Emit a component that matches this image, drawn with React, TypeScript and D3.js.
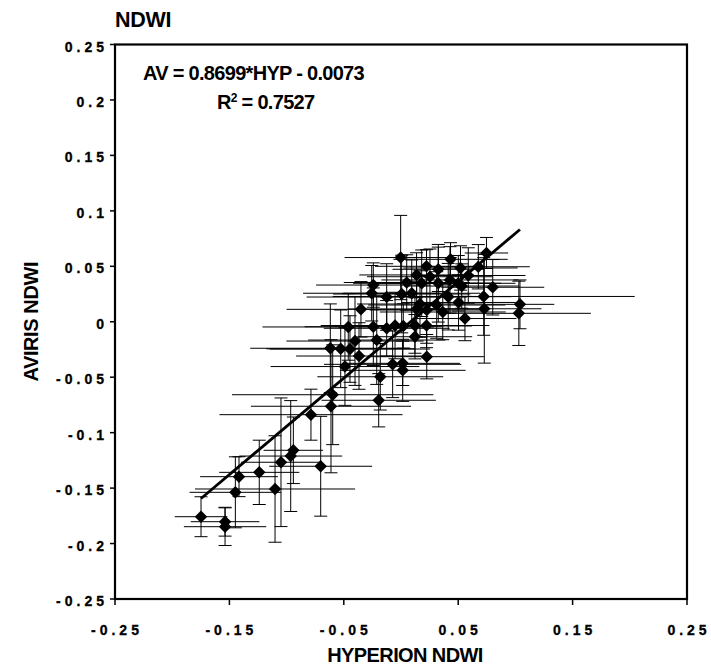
import React from "react";
import * as d3 from "d3";

const hypX = [-0.1748,-0.1538,-0.1538,-0.1448,-0.1416,-0.1239,-0.1101,-0.1049,-0.0964,-0.0941,-0.0702,-0.0787,-0.0612,-0.0597,-0.0195,-0.0181,-0.0073,0.0015,0.0015,-0.049,-0.0618,-0.0527,-0.0446,-0.0402,-0.0367,-0.0212,-0.0461,-0.0242,-0.0125,-0.0052,0.002,0.0122,0.0223,0.0122,0.0225,-0.035,-0.0242,-0.0256,-0.0125,0.0006,0.005,0.0094,0.0166,0.0137,0.0225,-0.0003,0.0136,0.0223,0.0253,0.0326,0.0181,0.0326,0.0433,0.052,0.0676,0.0747,0.0588,0.0428,0.0501,0.0802,0.0723,0.0413,0.0503,0.0312,0.0365,0.0728,0.0559,0.104,0.103,0.0531];
const avY = [-0.1758,-0.1803,-0.1848,-0.1538,-0.1397,-0.1358,-0.1508,-0.1267,-0.1211,-0.1159,-0.1303,-0.0838,-0.0762,-0.0658,-0.0708,-0.0496,-0.0384,-0.0375,-0.0438,-0.0404,-0.0239,-0.0244,-0.0246,-0.0174,-0.0309,-0.0165,-0.0047,-0.0045,-0.0059,-0.0034,-0.0038,-0.0034,-0.0034,-0.0135,-0.0315,0.0112,0.0331,0.0257,0.0223,0.025,0.0354,0.0257,0.016,0.0115,0.0106,0.0579,0.0422,0.05,0.0406,0.0473,0.0347,0.0347,0.0563,0.0485,0.0496,0.062,0.0417,0.0377,0.0347,0.0311,0.0228,0.0226,0.0174,0.0151,0.0088,0.0117,0.0029,0.0157,0.0076,0.0322];
const hypErr = [0.023,0.03,0.036,0.04,0.034,0.035,0.07,0.035,0.045,0.026,0.045,0.08,0.07,0.088,0.05,0.055,0.06,0.05,0.055,0.065,0.07,0.065,0.07,0.06,0.055,0.06,0.075,0.06,0.055,0.065,0.06,0.05,0.055,0.05,0.05,0.065,0.05,0.06,0.07,0.06,0.055,0.06,0.055,0.06,0.05,0.049,0.05,0.045,0.055,0.04,0.06,0.055,0.05,0.05,0.045,0.019,0.05,0.06,0.05,0.045,0.132,0.055,0.05,0.06,0.055,0.05,0.045,0.03,0.063,0.05];
const avErr = [0.018,0.013,0.017,0.032,0.018,0.029,0.048,0.058,0.05,0.03,0.045,0.023,0.06,0.045,0.024,0.03,0.03,0.02,0.028,0.035,0.04,0.035,0.03,0.04,0.03,0.04,0.03,0.035,0.025,0.03,0.02,0.025,0.02,0.02,0.02,0.025,0.02,0.025,0.03,0.035,0.025,0.03,0.03,0.025,0.03,0.038,0.02,0.015,0.025,0.02,0.03,0.035,0.015,0.02,0.02,0.014,0.025,0.03,0.025,0.025,0.035,0.03,0.025,0.03,0.025,0.049,0.02,0.022,0.029,0.02];

const xTicks = [-0.25, -0.15, -0.05, 0.05, 0.15, 0.25];
const yTicks = [0.25, 0.2, 0.15, 0.1, 0.05, 0, -0.05, -0.1, -0.15, -0.2, -0.25];
const slope = 0.8699;
const intercept = -0.0073;
const title = "NDWI";
const xTitle = "HYPERION NDWI";
const yTitle = "AVIRIS NDWI";

const W = 711, H = 671;
const L = 115, R = 687, T = 44.5, B = 599;
const FONT = "'Liberation Sans', Arial, Helvetica, sans-serif";

export default function App() {
  const x = d3.scaleLinear().domain([-0.25, 0.25]).range([L, R]);
  const y = d3.scaleLinear().domain([-0.25, 0.25]).range([B, T]);
  const pts = hypX.map((v, i) => ({ x: v, y: avY[i], ex: hypErr[i], ey: avErr[i] }));
  const xs = [...hypX].sort((a, b) => a - b);
  const lineGen = d3.line<number>().x(d => x(d)).y(d => y(slope * d + intercept));
  const lineData = [xs[0], xs[xs.length - 1]];
  const diamond = d3.symbol().type(d3.symbolSquare).size(78)();
  const cap = 6.5;
  const fmt = (v: number) => (v === 0 ? "0" : String(v));

  return (
    <svg width={W} height={H} style={{ position: "absolute", left: 0, top: 0, background: "#fff" }} fontFamily={FONT}>
      <rect x={0} y={0} width={W} height={H} fill="#fff" />
      <text x={L} y={27} fontSize={21.5} fontWeight="bold" letterSpacing={-0.3}>{title}</text>
      <g stroke="#000" strokeWidth={1} fill="none">
        {pts.map((p, i) => (
          <g key={i}>
            <line x1={x(p.x - p.ex)} x2={x(p.x + p.ex)} y1={y(p.y)} y2={y(p.y)} />
            <line x1={x(p.x)} x2={x(p.x)} y1={y(p.y - p.ey)} y2={y(p.y + p.ey)} />
            <line x1={x(p.x) - cap} x2={x(p.x) + cap} y1={y(p.y - p.ey)} y2={y(p.y - p.ey)} />
            <line x1={x(p.x) - cap} x2={x(p.x) + cap} y1={y(p.y + p.ey)} y2={y(p.y + p.ey)} />
          </g>
        ))}
      </g>
      <path d={lineGen(lineData) || ""} stroke="#000" strokeWidth={2.8} fill="none" />
      <g fill="#000">
        {pts.map((p, i) => (
          <path key={i} d={diamond || ""} transform={`translate(${x(p.x)},${y(p.y)}) rotate(45)`} />
        ))}
      </g>
      <rect x={L} y={T} width={R - L} height={B - T} fill="none" stroke="#000" strokeWidth={2.2} />
      {yTicks.map(t => (
        <g key={"y" + t}>
          <line x1={L - 5} x2={L} y1={y(t)} y2={y(t)} stroke="#000" strokeWidth={1.5} />
          <text x={L - 7} y={y(t) + 7} textAnchor="end" fontSize={14} fontWeight="bold" letterSpacing={4} stroke="#000" strokeWidth={0.3}>{fmt(t)}</text>
        </g>
      ))}
      {xTicks.map(t => (
        <g key={"x" + t}>
          <line x1={x(t)} x2={x(t)} y1={B} y2={B + 6} stroke="#000" strokeWidth={1.5} />
          <text x={x(t) + 2} y={635} textAnchor="middle" fontSize={14} fontWeight="bold" letterSpacing={4} stroke="#000" strokeWidth={0.3}>{fmt(t)}</text>
        </g>
      ))}
      <text x={143} y={80} fontSize={20} fontWeight="bold" letterSpacing={-0.7}>
        {`AV = ${slope}*HYP - ${Math.abs(intercept).toFixed(4)}`}
      </text>
      <text x={217} y={109} fontSize={20} fontWeight="bold" letterSpacing={-0.7}>
        R<tspan dy={-7} fontSize={12}>2</tspan><tspan dy={7}>{" = 0.7527"}</tspan>
      </text>
      <text x={(L + R) / 2 + 4} y={662} textAnchor="middle" fontSize={20} fontWeight="bold" letterSpacing={-0.6}>{xTitle}</text>
      <text transform={`translate(38,${(T + B) / 2}) rotate(-90)`} textAnchor="middle" fontSize={20} fontWeight="bold" letterSpacing={-0.4}>{yTitle}</text>
    </svg>
  );
}
